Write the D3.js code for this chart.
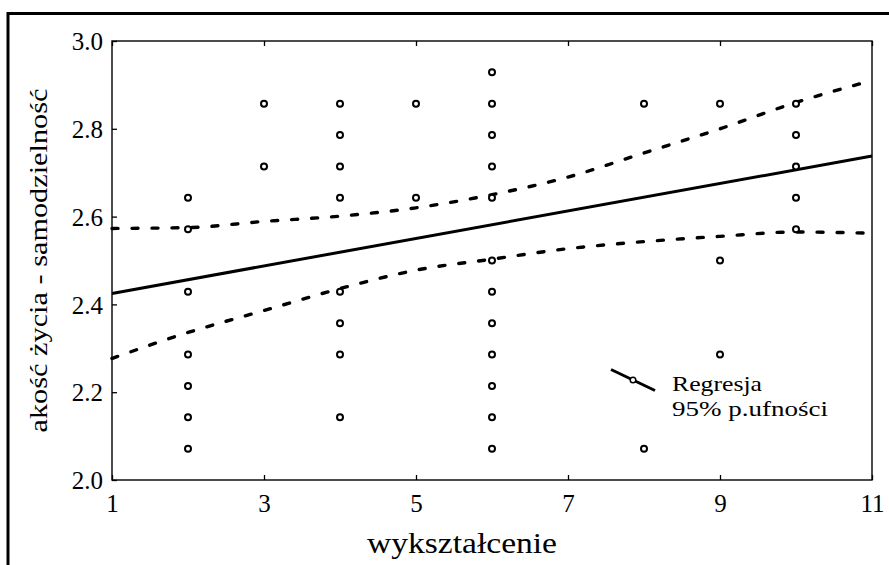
<!DOCTYPE html>
<html>
<head>
<meta charset="utf-8">
<script src="https://cdn.jsdelivr.net/npm/d3@7"></script>
<style>
  body { margin: 0; background: #fff; }
  svg { display: block; }
  text { font-family: 'Liberation Serif', 'Times New Roman', Times, serif; fill: #000; }
</style>
</head>
<body>
<svg id="chart" width="889" height="565"></svg>
<script>
// scatter points: wykształcenie (x) vs jakość życia - samodzielność (y)
const pointX = [2, 2, 2, 2, 2, 2, 2,
                3, 3,
                4, 4, 4, 4, 4, 4, 4, 4,
                5, 5,
                6, 6, 6, 6, 6, 6, 6, 6, 6, 6, 6, 6,
                8, 8,
                9, 9, 9,
                10, 10, 10, 10, 10];
const pointY = [2.643, 2.571, 2.429, 2.286, 2.214, 2.143, 2.071,
                2.857, 2.714,
                2.857, 2.786, 2.714, 2.643, 2.429, 2.357, 2.286, 2.143,
                2.857, 2.643,
                2.929, 2.857, 2.786, 2.714, 2.643, 2.5, 2.429, 2.357, 2.286, 2.214, 2.143, 2.071,
                2.857, 2.071,
                2.857, 2.5, 2.286,
                2.857, 2.786, 2.714, 2.643, 2.571];

// regression line end values
const regX = [1, 11];
const regY = [2.425, 2.738];

// 95% confidence band
const bandX = [1, 2, 3, 4, 5, 6, 7, 8, 9, 10, 11];
const upperY = [2.573, 2.575, 2.589, 2.601, 2.62, 2.65, 2.69, 2.745, 2.80, 2.86, 2.91];
const lowerY = [2.277, 2.336, 2.386, 2.436, 2.478, 2.503, 2.527, 2.543, 2.555, 2.565, 2.562];

const xTicks = [1, 3, 5, 7, 9, 11];
const yTicks = [2.0, 2.2, 2.4, 2.6, 2.8, 3.0];

const legendLabels = ["Regresja", "95% p.ufności"];
const legendWidths = [90, 156];

const serif = "'Liberation Serif', 'Times New Roman', Times, serif";
const svg = d3.select("#chart");
const mLeft = 112, mRight = 872, mTop = 41, mBottom = 480;

const x = d3.scaleLinear().domain([1, 11]).range([mLeft, mRight]);
const y = d3.scaleLinear().domain([2.0, 3.0]).range([mBottom, mTop]);

// outer frame (only top and left edges visible)
svg.append("path")
  .attr("d", "M8,565 L8,13.5 L889,13.5")
  .attr("fill", "none")
  .attr("stroke", "#000")
  .attr("stroke-width", 3);

// plot frame
svg.append("rect")
  .attr("x", mLeft).attr("y", mTop)
  .attr("width", mRight - mLeft).attr("height", mBottom - mTop)
  .attr("fill", "none").attr("stroke", "#000").attr("stroke-width", 1.4);

// axes
const xAxis = svg.append("g")
  .attr("transform", `translate(0,${mBottom})`)
  .call(d3.axisBottom(x).tickValues(xTicks).tickSize(-5).tickPadding(14).tickFormat(d3.format("d")));
const xAxisTop = svg.append("g")
  .attr("transform", `translate(0,${mTop})`)
  .call(d3.axisTop(x).tickValues(xTicks).tickSize(-5).tickFormat(""));
const yAxis = svg.append("g")
  .attr("transform", `translate(${mLeft},0)`)
  .call(d3.axisLeft(y).tickValues(yTicks).tickSize(-5).tickPadding(9).tickFormat(d3.format(".1f")));

[xAxis, xAxisTop, yAxis].forEach(g => {
  g.attr("font-family", serif);
  g.select(".domain").remove();
  g.selectAll(".tick line").attr("stroke", "#000").attr("stroke-width", 1.3);
  g.selectAll("text").style("font-family", serif).style("font-size", "25px").attr("fill", "#000");
});
xAxis.selectAll("text").attr("dy", "0.71em");
yAxis.selectAll("text").attr("dy", "0.35em");

// confidence band lines
const band = d3.line().curve(d3.curveMonotoneX).x((d, i) => x(bandX[i])).y(d => y(d));
[upperY, lowerY].forEach(arr => {
  svg.append("path")
    .attr("d", band(arr))
    .attr("fill", "none")
    .attr("stroke", "#000")
    .attr("stroke-width", 3.4)
    .attr("stroke-linecap", "round")
    .attr("stroke-dasharray", "6,14");
});

// regression line
svg.append("line")
  .attr("x1", x(regX[0])).attr("y1", y(regY[0]))
  .attr("x2", x(regX[1])).attr("y2", y(regY[1]))
  .attr("stroke", "#000").attr("stroke-width", 3);

// points
svg.append("g").selectAll("circle")
  .data(pointX)
  .join("circle")
  .attr("cx", d => x(d))
  .attr("cy", (d, i) => y(pointY[i]))
  .attr("r", 3)
  .attr("fill", "#fff")
  .attr("stroke", "#000")
  .attr("stroke-width", 2);

// legend
svg.append("line")
  .attr("x1", 611).attr("y1", 369.5).attr("x2", 655).attr("y2", 390.5)
  .attr("stroke", "#000").attr("stroke-width", 3);
svg.append("circle")
  .attr("cx", 633).attr("cy", 380).attr("r", 2.8)
  .attr("fill", "#fff").attr("stroke", "#000").attr("stroke-width", 1.5);
svg.append("g").selectAll("text")
  .data(legendLabels)
  .join("text")
  .attr("x", 672)
  .attr("y", (d, i) => 390.5 + i * 25.5)
  .attr("textLength", (d, i) => legendWidths[i])
  .attr("lengthAdjust", "spacingAndGlyphs")
  .style("font-size", "22px")
  .text(d => d);

// axis titles
svg.append("text")
  .attr("x", 367).attr("y", 553)
  .attr("textLength", 190)
  .attr("lengthAdjust", "spacingAndGlyphs")
  .style("font-size", "30px")
  .text("wykształcenie");

svg.append("text")
  .attr("transform", `translate(47,${(mTop + mBottom) / 2}) rotate(-90)`)
  .attr("text-anchor", "middle")
  .attr("textLength", 344)
  .attr("lengthAdjust", "spacingAndGlyphs")
  .style("font-size", "26px")
  .text("akość życia - samodzielność");
</script>
</body>
</html>
